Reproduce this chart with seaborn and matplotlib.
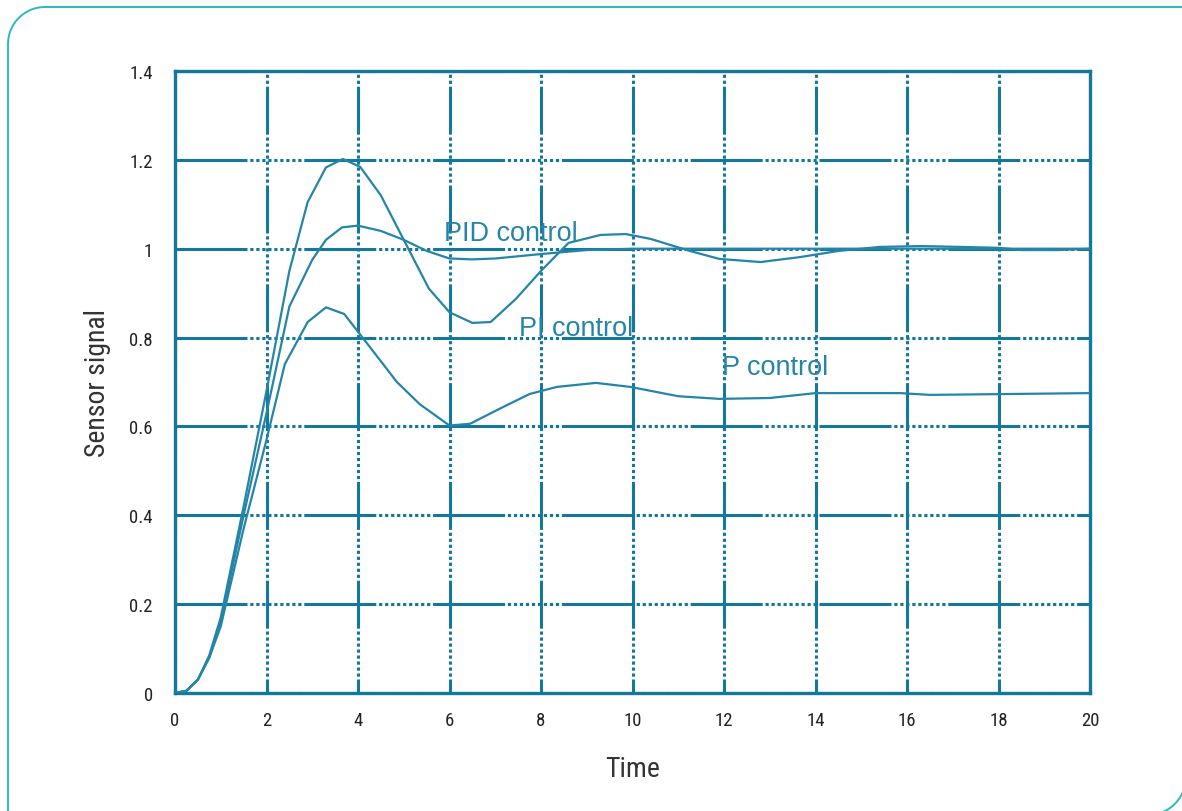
import numpy as np
import pandas as pd
import seaborn as sns
import matplotlib
matplotlib.use("Agg")
import matplotlib.pyplot as plt
from matplotlib import font_manager
from matplotlib.lines import Line2D
from matplotlib.transforms import IdentityTransform
from matplotlib.ticker import FuncFormatter

# ===== data =====
t_pid = [0, 0.25, 0.5, 0.75, 1.0, 1.5, 2.0, 2.5, 3.0, 3.3, 3.65, 4.0, 4.5, 5.0, 5.5,
         6.0, 6.5, 7.0, 8.0, 9.0, 10, 12, 14, 16, 18, 20]
y_pid = [0, 0.005, 0.03, 0.08, 0.16, 0.40, 0.63, 0.87, 0.975, 1.02, 1.048, 1.052, 1.04, 1.02, 0.995,
         0.978, 0.976, 0.978, 0.988, 0.997, 1.0, 1.0, 1.0, 1.0, 1.0, 1.0]

t_pi = [0, 0.25, 0.5, 0.75, 1.0, 1.5, 2.0, 2.5, 2.9, 3.3, 3.67, 4.05, 4.5, 4.95, 5.55,
        6.0, 6.5, 6.9, 7.45, 8.0, 8.6, 9.3, 9.85, 10.4, 11.25, 11.9, 12.8, 13.65, 14.5,
        15.4, 16.3, 17.2, 18.0, 18.5, 19.3, 20]
y_pi = [0, 0.005, 0.03, 0.085, 0.17, 0.42, 0.68, 0.95, 1.105, 1.183, 1.202, 1.184, 1.12, 1.03, 0.91,
        0.857, 0.833, 0.835, 0.887, 0.95, 1.013, 1.031, 1.033, 1.022, 0.995, 0.977, 0.970, 0.981, 0.995,
        1.004, 1.006, 1.004, 1.002, 0.997, 0.997, 1.0]

t_p = [0, 0.25, 0.5, 0.75, 1.0, 1.5, 2.0, 2.4, 2.9, 3.3, 3.7, 4.25, 4.85, 5.35, 6.0,
       6.45, 7.1, 7.75, 8.35, 9.2, 9.95, 11.0, 11.9, 13.0, 14.0, 15.85, 16.5, 20]
y_p = [0, 0.005, 0.03, 0.08, 0.15, 0.37, 0.57, 0.74, 0.835, 0.868, 0.853, 0.78, 0.70, 0.65, 0.602,
       0.606, 0.64, 0.673, 0.689, 0.698, 0.689, 0.668, 0.662, 0.664, 0.675, 0.675, 0.671, 0.675]

x_ticks = list(range(0, 21, 2))
y_ticks = [0, 0.2, 0.4, 0.6, 0.8, 1.0, 1.2, 1.4]

labels = [("PID control", 5.88, 1.035), ("PI control", 7.52, 0.821), ("P control", 11.96, 0.734)]

# ===== style =====
sns.set_theme(style="white")

# pick a narrow face for the axis text if one is installed
names = {f.name for f in font_manager.fontManager.ttflist}
narrow = next((n for n in ['Roboto Condensed', 'Noto Sans Condensed', 'Liberation Sans Narrow',
                           'Open Sans Condensed'] if n in names), None)
if narrow:
    plt.rcParams['font.family'] = [narrow, 'DejaVu Sans']
    tick_size, label_size = 13.5, 20
else:
    plt.rcParams['font.family'] = ['DejaVu Sans']
    plt.rcParams['font.stretch'] = 'condensed'
    tick_size, label_size = 12.5, 18
plt.rcParams['lines.scale_dashes'] = False

GRID = '#13789b'
CURVE = '#2585a8'
PX = 0.72  # points per pixel at dpi 100


def dash_pattern(solid, dots, on=3.0, off=3.0, offset=0.0):
    seq = [solid * PX, off * PX]
    for _ in range(dots):
        seq += [on * PX, off * PX]
    return (offset * PX, tuple(seq))


df = pd.concat([
    pd.DataFrame({'time': t_pid, 'signal': y_pid, 'mode': 'PID'}),
    pd.DataFrame({'time': t_pi, 'signal': y_pi, 'mode': 'PI'}),
    pd.DataFrame({'time': t_p, 'signal': y_p, 'mode': 'P'}),
])

fig = plt.figure(figsize=(11.82, 8.12), dpi=100)
ax = fig.add_axes([175 / 1182, 118 / 812, 915 / 1182, 622 / 812])

sns.lineplot(data=df, x='time', y='signal', hue='mode', units='mode', estimator=None,
             sort=False, palette=[CURVE] * 3, linewidth=1.6, legend=False, ax=ax, zorder=3)

ax.set_xlim(0, 20)
ax.set_ylim(0, 1.4)
ax.set_xticks(x_ticks)
ax.set_yticks(y_ticks)
ax.yaxis.set_major_formatter(FuncFormatter(lambda v, p: '%g' % v))

# grid: solid runs broken by dotted stretches
ax.xaxis.grid(True, color=GRID, linewidth=2.2, dash_capstyle='butt',
              linestyle=dash_pattern(48, 8, 3.2, 2.8, offset=34))
ax.yaxis.grid(True, color=GRID, linewidth=2.2, dash_capstyle='butt',
              linestyle=dash_pattern(72, 9, 3.2, 2.8))
ax.set_axisbelow(True)

for s in ax.spines.values():
    s.set_visible(True)
    s.set_color(GRID)
    s.set_linewidth(2.4)

ax.tick_params(axis='both', length=0, labelsize=tick_size, labelcolor='#222222')
ax.tick_params(axis='x', pad=13)
ax.tick_params(axis='y', pad=16)

ax.set_xlabel('Time', fontsize=label_size, color='#333333', labelpad=19)
ax.set_ylabel('Sensor signal', fontsize=label_size, color='#333333', labelpad=13)

for txt, x, y in labels:
    ax.text(x, y, txt, family=['Liberation Sans', 'DejaVu Sans'], fontsize=19.5,
            color=CURVE, va='center', ha='left', zorder=4)

# outer page frame: rounded top-left and bottom-right corners, as a polyline in pixels (y up)
H = 812
a1 = np.linspace(np.pi, np.pi / 2, 20)
a2 = np.linspace(0, -np.pi / 2, 20)
fx = np.concatenate([[8], 45 + 37 * np.cos(a1), [1186], 1148 + 38 * np.cos(a2), [1100]])
fy = np.concatenate([[-20], (H - 45) + 37 * np.sin(a1), [H - 8], (H - 778) + 38 * np.sin(a2), [-20]])
fig.add_artist(Line2D(fx, fy, transform=IdentityTransform(), color='#2bbabb', linewidth=1.4))

fig.savefig('out.png', dpi=100)
